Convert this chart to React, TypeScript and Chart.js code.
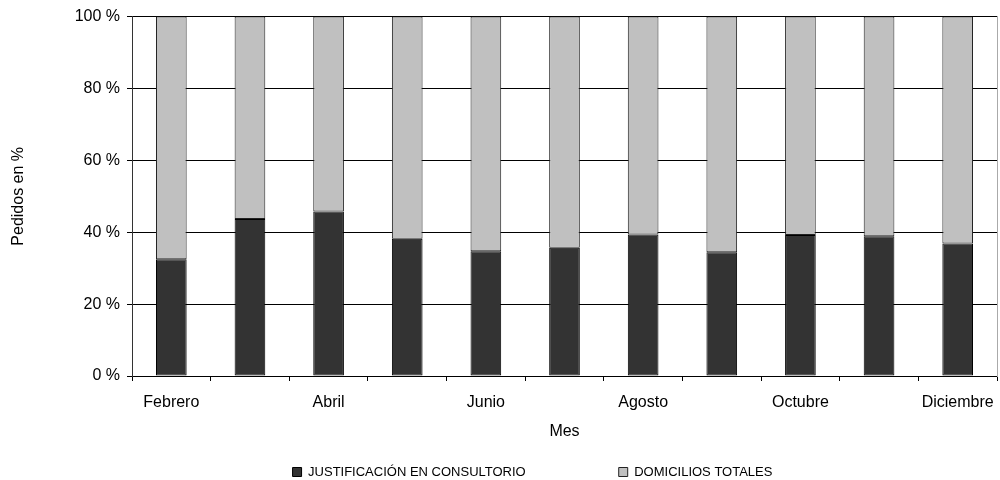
import React, { useEffect, useRef } from 'react';
import { Chart, registerables } from 'chart.js';

Chart.register(...registerables);

const months = ['Febrero', 'Marzo', 'Abril', 'Mayo', 'Junio', 'Julio', 'Agosto', 'Septiembre', 'Octubre', 'Noviembre', 'Diciembre'];
const justificacion = [32.5, 43.7, 45.8, 38.2, 34.7, 35.7, 39.4, 34.4, 39.2, 38.9, 36.9];
const domicilios = [67.5, 56.3, 54.2, 61.8, 65.3, 64.3, 60.6, 65.6, 60.8, 61.1, 63.1];
const seriesNames = ['JUSTIFICACIÓN EN CONSULTORIO', 'DOMICILIOS TOTALES'];
const yAxisTitle = 'Pedidos en %';
const xAxisTitle = 'Mes';

const FONT = '"Liberation Sans", Arial, sans-serif';

export default function App() {
  const ref = useRef<HTMLCanvasElement>(null);

  useEffect(() => {
    if (!ref.current) return;
    const legendShift = {
      id: 'legendShift',
      afterLayout(chart: any) {
        const l = chart.legend;
        if (!l) return;
        l.left += 34;
        l.right += 34;
        l.top = 472 - 6.5 - 93;
      },
    };
    const chart = new Chart(ref.current, {
      type: 'bar',
      data: {
        labels: months,
        datasets: [
          {
            label: seriesNames[0],
            data: justificacion,
            backgroundColor: '#333333',
            borderColor: '#000000',
            borderWidth: 1,
            borderSkipped: false,
            barPercentage: 0.39,
            categoryPercentage: 1,
          },
          {
            label: seriesNames[1],
            data: domicilios,
            backgroundColor: '#C0C0C0',
            borderColor: '#222222',
            borderWidth: 1,
            borderSkipped: false,
            barPercentage: 0.39,
            categoryPercentage: 1,
          },
        ],
      },
      options: {
        animation: false,
        responsive: true,
        maintainAspectRatio: false,
        layout: { padding: { top: 16, right: 3, left: 0, bottom: 0 } },
        font: { family: FONT },
        plugins: {
          tooltip: { enabled: false },
          legend: {
            position: 'bottom',
            maxHeight: 30,
            labels: {
              color: '#000',
              font: { family: FONT, size: 13 },
              boxWidth: 9,
              boxHeight: 9,
              padding: 93,
            },
          },
        },
        scales: {
          x: {
            stacked: true,
            offset: true,
            grid: {
              offset: true,
              drawOnChartArea: false,
              drawTicks: true,
              tickLength: 5,
              color: '#000',
            },
            border: { display: true, color: '#000' },
            ticks: {
              autoSkip: false,
              maxRotation: 0,
              padding: 12,
              color: '#000',
              font: { family: FONT, size: 16 },
              callback: (_v: any, i: number) => (i % 2 === 0 ? months[i] : ''),
            },
            title: {
              display: true,
              text: xAxisTitle,
              color: '#000',
              font: { family: FONT, size: 16 },
              padding: { top: 10, bottom: 9 },
            },
            afterFit(scale: any) {
              scale.height = 74;
              scale.paddingLeft = 0;
              scale.paddingRight = 0;
            },
          },
          y: {
            stacked: true,
            min: 0,
            max: 100,
            grid: {
              drawTicks: true,
              tickLength: 5,
              color: '#000',
            },
            border: { display: true, color: '#333' },
            ticks: {
              stepSize: 20,
              padding: 7,
              color: '#000',
              font: { family: FONT, size: 16 },
              callback: (v: any) => v + ' %',
            },
            title: {
              display: true,
              text: yAxisTitle,
              color: '#000',
              font: { family: FONT, size: 16 },
              padding: { top: 9, bottom: 0 },
            },
            afterFit(scale: any) {
              scale.width = 132;
            },
          },
          yRight: {
            position: 'right',
            min: 0,
            max: 100,
            grid: { display: false },
            ticks: { display: false },
            border: { display: true, color: '#aaaaaa' },
            afterFit(scale: any) {
              scale.width = 0;
            },
          },
        },
      },
      plugins: [legendShift],
    } as any);
    return () => chart.destroy();
  }, []);

  return (
    <div style={{ position: 'fixed', left: 0, top: 0, width: 1000, height: 480, background: '#fff' }}>
      <canvas ref={ref} />
    </div>
  );
}
